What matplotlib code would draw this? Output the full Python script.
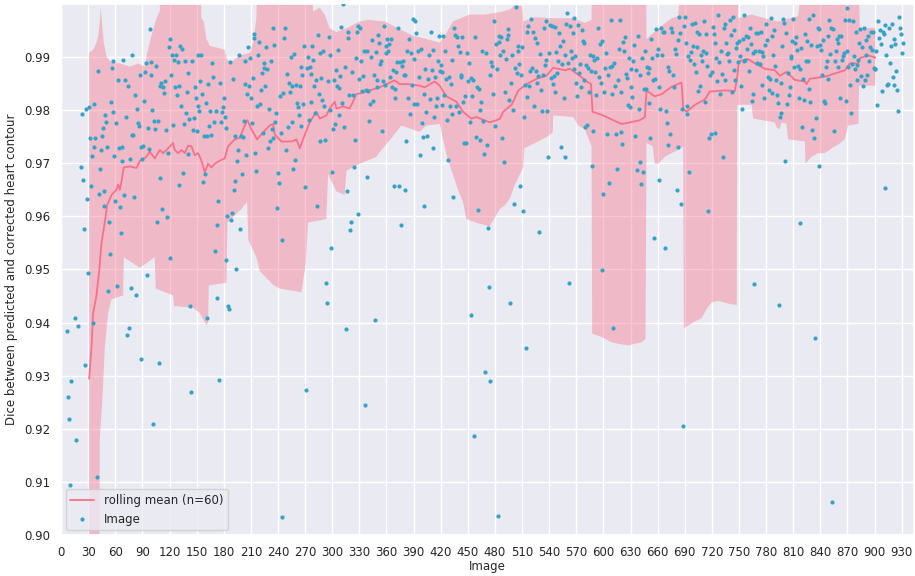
import numpy as np
import matplotlib
matplotlib.use("Agg")
import matplotlib.pyplot as plt
import seaborn as sns

# dice per image, in units of 1e-4 (values below 0.90 fall off the chart)
dice_000 = [8200, 8700, 7400, 8900, 8600, 8100, 8800, 9384, 9260, 9218,
            9095, 9290, 8400, 8900, 8700, 8950, 9409, 9178, 8800, 9393,
            8600, 8900, 9692, 9792, 9668, 9576, 8800, 9320, 9803, 9632,
            9494, 9805, 9748, 9658, 9713, 9399, 9812, 9731, 9747, 8600,
            9110, 9874, 9643, 9690, 9724, 9752, 9767, 9620, 9648, 9791,
            9777, 9731, 9460, 9589, 9530, 9815, 9879, 9893, 9796, 9714,
            9628, 9776, 9469, 9857, 9728, 9617, 9568, 9705, 9730, 9894,
            9640, 9857, 9788, 9377, 9845, 9390, 9708, 9465, 9903, 9754,
            9753, 9636, 9828, 9451, 9803, 9776, 9771, 9866, 9731, 9331,
            9708, 9732, 9818, 9871, 9888, 9490, 9766, 9726, 9952, 9890]
dice_100 = [9867, 9800, 9209, 9780, 9764, 9884, 9589, 9779, 9323, 9846,
            9673, 9852, 9613, 9844, 9833, 9855, 9763, 9598, 9719, 9919,
            9521, 9933, 9866, 9903, 9772, 9895, 9844, 9903, 9828, 9890,
            9845, 9659, 9921, 9808, 9916, 9681, 9774, 9893, 9794, 9835,
            9717, 9870, 9784, 9431, 9269, 9892, 9762, 9786, 9843, 9823,
            9760, 9807, 9904, 9798, 9855, 9904, 9830, 9664, 9752, 9679,
            9813, 9751, 9409, 9850, 9771, 9798, 9754, 9888, 9862, 9777,
            9534, 9798, 9446, 9583, 9628, 9292, 9852, 9777, 9796, 9805,
            9823, 9788, 9766, 9518, 9600, 9431, 9426, 9890, 9593, 9606,
            9859, 9649, 9666, 9751, 9501, 9704, 9724, 9904, 9576, 9751]
dice_200 = [9680, 9749, 9780, 9849, 9892, 9716, 9830, 9919, 9845, 9898,
            9822, 9776, 9860, 9944, 9935, 9719, 9686, 9807, 9903, 9929,
            9812, 9837, 9869, 9756, 9880, 9888, 9846, 9919, 9877, 9728,
            9803, 9742, 9893, 9764, 9954, 9747, 9922, 9778, 9794, 9616,
            9681, 9662, 9826, 9756, 9033, 9555, 9833, 9935, 9955, 9724,
            9868, 9769, 9851, 9835, 9900, 9846, 9777, 9690, 9905, 9706,
            9848, 9813, 9805, 9790, 9845, 9882, 9771, 9867, 9812, 9921,
            9655, 9273, 9880, 9900, 9781, 9882, 9816, 9868, 9921, 9895,
            9846, 9795, 9856, 9619, 9942, 9830, 9907, 9742, 9861, 9820,
            9911, 9807, 9744, 9474, 9437, 9854, 9937, 9800, 9903, 9541]
dice_300 = [9683, 9764, 9856, 9774, 9875, 9845, 9914, 9842, 9790, 9865,
            9957, 9813, 9999, 9768, 9882, 9387, 9648, 9948, 9936, 9829,
            9574, 9589, 9872, 9829, 9692, 9743, 9898, 9948, 9605, 9959,
            9859, 9955, 9892, 9836, 9865, 9912, 9245, 9838, 9674, 9912,
            9836, 9780, 9811, 9900, 9932, 9818, 9866, 9405, 9909, 9844,
            9857, 9942, 9927, 9886, 9893, 9761, 9855, 9958, 9848, 9920,
            9907, 9934, 9911, 9924, 9863, 9934, 9843, 9876, 9658, 9823,
            9839, 9871, 9890, 9954, 9657, 9890, 9584, 9884, 9893, 9867,
            9866, 9650, 9741, 9912, 9823, 9934, 9793, 9907, 9848, 9972,
            9896, 9812, 9968, 9945, 9812, 9912, 9863, 9715, 9916, 9776]
dice_400 = [9750, 9619, 9830, 9878, 9796, 9752, 9858, 9903, 9821, 9947,
            9875, 9728, 9913, 9788, 9862, 9808, 9822, 9893, 9939, 9873,
            9885, 9872, 9810, 9939, 9829, 9911, 9859, 9781, 9707, 9862,
            9808, 9850, 9895, 9792, 9636, 9954, 9942, 9808, 9937, 9921,
            9797, 9910, 9867, 9863, 9937, 9815, 9739, 9826, 9739, 9907,
            9854, 9888, 9777, 9414, 9861, 9826, 9857, 9187, 9937, 9750,
            9843, 9612, 9839, 9744, 9801, 9816, 9912, 9779, 9718, 9307,
            9907, 9734, 9578, 9467, 9867, 9290, 9890, 9884, 9831, 9967,
            9770, 9924, 9877, 9035, 9939, 9929, 9903, 9937, 9748, 9912,
            9702, 9835, 9897, 9934, 9952, 9942, 9820, 9437, 9851, 9903]
dice_500 = [9801, 9623, 9880, 9995, 9869, 9921, 9911, 9887, 9658, 9867,
            9918, 9610, 9788, 9847, 9352, 9825, 9948, 9958, 9846, 9874,
            9972, 9880, 9948, 9808, 9935, 9874, 9927, 9852, 9864, 9571,
            9905, 9837, 9798, 9867, 9955, 9885, 9967, 9895, 9799, 9711,
            9907, 9960, 9860, 9958, 9850, 9865, 9835, 9957, 9909, 9869,
            9893, 9946, 9921, 9730, 9886, 9930, 9823, 9904, 9712, 9963,
            9983, 9888, 9474, 9959, 9911, 9898, 9946, 9973, 9877, 9901,
            9852, 9826, 9961, 9870, 9886, 9844, 9950, 9930, 9926, 9857,
            9769, 9885, 9772, 9880, 9835, 9903, 9874, 9695, 9901, 9761,
            9894, 9872, 9828, 9898, 9955, 9862, 9924, 9852, 9499, 9930]
dice_600 = [9643, 9835, 9880, 9907, 9755, 9867, 9663, 9882, 9969, 9830,
            9884, 9390, 9888, 9846, 9755, 9690, 9856, 9915, 9969, 9834,
            9758, 9736, 9929, 9911, 9937, 9868, 9860, 9810, 9898, 9805,
            9843, 9877, 9825, 9893, 9922, 9751, 9876, 9687, 9939, 9802,
            9867, 9702, 9660, 9899, 9684, 9839, 9912, 9840, 9882, 9869,
            9813, 9879, 9747, 9934, 9899, 9857, 9559, 9859, 9952, 9903,
            9916, 9843, 9668, 9803, 9955, 9903, 9947, 9948, 9540, 9798,
            9775, 9881, 9734, 9874, 9755, 9955, 9947, 9866, 9843, 9916,
            9906, 9649, 9730, 9932, 9975, 9945, 9624, 9802, 9206, 9958,
            9976, 9926, 9792, 9807, 9901, 9684, 9895, 9909, 9962, 9921]
dice_700 = [9886, 9964, 9871, 9918, 9947, 9836, 9944, 9846, 9903, 9893,
            9912, 9968, 9816, 9908, 9944, 9883, 9610, 9747, 9866, 9755,
            9871, 9957, 9944, 9756, 9927, 9899, 9854, 9979, 9890, 9830,
            9912, 9868, 9711, 9955, 9963, 9857, 9927, 9905, 9908, 9893,
            9969, 9941, 9834, 9975, 9875, 9950, 9857, 9917, 9927, 9890,
            9931, 9902, 9846, 9803, 9934, 9893, 9980, 9895, 9940, 9916,
            9938, 9873, 9955, 9925, 9818, 9831, 9908, 9472, 9911, 9945,
            9888, 9946, 9911, 9887, 9947, 9848, 9910, 9901, 9822, 9922,
            9962, 9932, 9862, 9837, 9859, 9973, 9940, 9832, 9903, 9950,
            9884, 9857, 9828, 9813, 9433, 9787, 9795, 9852, 9921, 9972]
dice_800 = [9964, 9705, 9945, 9811, 9870, 9828, 9843, 9901, 9898, 9931,
            9972, 9882, 9927, 9937, 9914, 9884, 9822, 9877, 9587, 9917,
            9769, 9859, 9819, 9944, 9893, 9931, 9893, 9839, 9972, 9816,
            9922, 9763, 9980, 9747, 9371, 9785, 9921, 9954, 9694, 9952,
            9922, 9914, 9867, 9932, 9818, 9813, 9882, 9893, 9940, 9859,
            9970, 9905, 9954, 9062, 9952, 9760, 9893, 9911, 9934, 9881,
            9927, 9940, 9823, 9940, 9895, 9901, 9908, 9969, 9818, 9911,
            9993, 9882, 9969, 9848, 9795, 9887, 9967, 9901, 9877, 9947,
            9856, 9885, 9895, 9927, 9952, 9864, 9918, 9845, 9954, 9856,
            9932, 9903, 9867, 9939, 9892, 9919, 9948, 9914, 9947, 9880]
dice_900 = [9877, 9878, 9911, 9810, 9967, 9935, 9950, 9924, 9836, 9947,
            9944, 9653, 9960, 9903, 9847, 9849, 9954, 9888, 9921, 9963,
            9863, 9934, 9847, 9924, 9873, 9837, 9798, 9976, 9955, 9944,
            9908, 9926]

# rolling mean (n=60) as (image, dice)
rolling_mean = [
    (31.1, 0.9294), (33.7, 0.9353), (35.5, 0.9418), (39.2, 0.9451), (42.2, 0.9497),
    (44.7, 0.9549), (48.4, 0.9588), (51.0, 0.9621), (55.8, 0.9640), (61.3, 0.9650),
    (63.2, 0.9660), (65.0, 0.9650), (66.9, 0.9666), (69.4, 0.9692), (76.1, 0.9694),
    (83.4, 0.9691), (87.1, 0.9704), (94.5, 0.9712), (98.2, 0.9722), (103.7, 0.9709),
    (109.2, 0.9725), (112.9, 0.9719), (116.6, 0.9725), (124.0, 0.9738), (125.8, 0.9725),
    (129.5, 0.9719), (133.2, 0.9725), (136.9, 0.9719), (140.6, 0.9733), (144.3, 0.9732),
    (147.9, 0.9715), (151.6, 0.9719), (155.3, 0.9705), (159.0, 0.9683), (162.7, 0.9699),
    (166.4, 0.9692), (170.1, 0.9699), (175.6, 0.9705), (181.1, 0.9709), (184.8, 0.9732),
    (192.2, 0.9745), (197.7, 0.9748), (203.2, 0.9771), (206.2, 0.9781), (210.6, 0.9764),
    (216.9, 0.9745), (223.5, 0.9758), (230.9, 0.9771), (234.6, 0.9774), (236.4, 0.9754),
    (243.8, 0.9741), (254.8, 0.9741), (260.4, 0.9745), (264.1, 0.9728), (267.7, 0.9745),
    (275.1, 0.9777), (282.5, 0.9797), (286.2, 0.9784), (293.5, 0.9790), (297.2, 0.9803),
    (302.8, 0.9816), (304.6, 0.9803), (312.0, 0.9807), (319.3, 0.9803), (323.0, 0.9816),
    (326.7, 0.9830), (334.1, 0.9833), (345.2, 0.9839), (352.5, 0.9843), (359.9, 0.9849),
    (369.1, 0.9856), (374.6, 0.9849), (383.9, 0.9849), (396.7, 0.9846), (402.3, 0.9843),
    (413.3, 0.9854), (418.9, 0.9846), (426.2, 0.9826), (437.3, 0.9816), (444.7, 0.9797),
    (453.9, 0.9784), (459.4, 0.9787), (474.2, 0.9777), (481.8, 0.9781), (485.5, 0.9784),
    (489.2, 0.9797), (498.4, 0.9810), (502.1, 0.9823), (505.8, 0.9837), (515.0, 0.9849),
    (526.1, 0.9859), (537.1, 0.9865), (544.5, 0.9880), (557.4, 0.9875), (562.9, 0.9878),
    (570.3, 0.9869), (575.8, 0.9862), (581.4, 0.9854), (586.2, 0.9849), (588.0, 0.9797),
    (599.8, 0.9790), (610.9, 0.9781), (620.1, 0.9774), (629.3, 0.9777), (640.3, 0.9781),
    (645.9, 0.9787), (647.7, 0.9837), (656.9, 0.9826), (664.3, 0.9830), (675.4, 0.9844),
    (686.4, 0.9852), (688.3, 0.9803), (691.9, 0.9797), (701.2, 0.9810), (712.2, 0.9820),
    (717.7, 0.9835), (734.3, 0.9837), (745.4, 0.9836), (748.0, 0.9862), (749.8, 0.9892),
    (760.1, 0.9896), (767.5, 0.9888), (778.6, 0.9878), (789.6, 0.9875), (795.2, 0.9865),
    (802.5, 0.9872), (811.7, 0.9857), (822.8, 0.9854), (824.6, 0.9849), (828.3, 0.9859),
    (844.9, 0.9863), (856.0, 0.9869), (867.0, 0.9875), (872.6, 0.9888), (881.8, 0.9888),
    (883.6, 0.9898), (892.8, 0.9903), (900.9, 0.9899)]

# edges of the shaded band (1.01 / 0.88 = beyond the axis limits)
band_upper = [
    (31.1, 0.9908), (35.5, 0.9914), (39.2, 0.9927), (41.1, 0.9940), (42.9, 0.9967),
    (44.0, 0.9993), (45.8, 0.9954), (47.3, 0.9927), (50.3, 0.9901), (54.0, 0.9892),
    (65.0, 0.9888), (76.1, 0.9882), (85.3, 0.9888), (92.7, 0.9882), (95.2, 0.9908),
    (100.0, 0.9940), (105.6, 0.9973), (109.2, 0.9986), (111.0, 1.01), (153.5, 1.01),
    (155.3, 0.9973), (157.9, 0.9967), (160.9, 0.9934), (164.5, 0.9921), (181.1, 0.9914),
    (183.0, 0.9898), (186.7, 0.9888), (195.9, 0.9901), (208.8, 0.9908), (212.5, 0.9927),
    (216.1, 0.9973), (218.0, 1.01), (277.0, 1.01), (278.8, 0.9986), (286.2, 0.9993),
    (291.7, 0.9980), (297.2, 0.9954), (304.6, 0.9947), (315.7, 0.9954), (330.4, 0.9967),
    (339.6, 0.9970), (358.1, 0.9967), (372.8, 0.9954), (389.4, 0.9940), (404.1, 0.9934),
    (418.9, 0.9927), (424.4, 0.9940), (433.6, 0.9967), (452.0, 0.9980), (469.0, 0.9980),
    (487.4, 0.9985), (497.0, 0.9990), (502.0, 0.9998), (510.5, 0.9996), (511.3, 0.9967),
    (524.2, 0.9975), (544.5, 0.9973), (566.6, 0.9973), (579.5, 0.9964), (586.9, 0.9970),
    (587.6, 1.01), (647.0, 1.01), (647.7, 0.9934), (660.6, 0.9954), (675.4, 0.9973),
    (682.7, 0.9977), (688.6, 1.01), (748.0, 1.01), (749.1, 0.9973), (763.8, 0.9980),
    (778.6, 0.9973), (793.3, 0.9967), (815.4, 0.9977), (823.5, 1.01), (882.1, 1.01),
    (883.6, 0.9954), (900.9, 0.9955)]
band_lower = [
    (31.1, 0.88), (42.2, 0.88), (42.9, 0.9183), (45.8, 0.9255), (48.4, 0.9353),
    (52.1, 0.9418), (55.8, 0.9444), (68.7, 0.9451), (69.4, 0.9523), (87.1, 0.9503),
    (103.7, 0.9523), (104.8, 0.9464), (124.0, 0.9451), (125.1, 0.9431), (146.1, 0.9428),
    (153.5, 0.9418), (160.9, 0.9395), (162.7, 0.9400), (163.4, 0.9470), (183.0, 0.9475),
    (184.1, 0.9588), (199.6, 0.9614), (205.8, 0.9627), (207.3, 0.9555), (216.1, 0.9523),
    (219.8, 0.9497), (234.6, 0.9471), (241.9, 0.9464), (265.9, 0.9457), (270.7, 0.9510),
    (273.3, 0.9588), (293.5, 0.9595), (295.4, 0.9679), (304.6, 0.9647), (313.8, 0.9640),
    (315.7, 0.9686), (330.4, 0.9699), (348.8, 0.9712), (354.4, 0.9725), (367.3, 0.9751),
    (376.5, 0.9771), (396.7, 0.9759), (404.1, 0.9771), (418.9, 0.9774), (422.6, 0.9745),
    (428.1, 0.9705), (433.6, 0.9679), (439.1, 0.9650), (444.7, 0.9627), (448.3, 0.9595),
    (459.4, 0.9588), (474.2, 0.9581), (485.5, 0.9614), (491.1, 0.9621), (496.6, 0.9634),
    (502.1, 0.9660), (507.6, 0.9679), (511.3, 0.9692), (512.4, 0.9728), (524.2, 0.9738),
    (539.0, 0.9751), (544.0, 0.9758), (544.5, 0.9790), (566.6, 0.9787), (572.1, 0.9771),
    (579.5, 0.9764), (586.9, 0.9732), (587.6, 0.9379), (597.9, 0.9373), (609.0, 0.9363),
    (616.4, 0.9360), (627.4, 0.9357), (634.8, 0.9360), (642.2, 0.9363), (646.6, 0.9369),
    (647.7, 0.9738), (654.4, 0.9732), (656.9, 0.9699), (660.6, 0.9699), (668.0, 0.9712),
    (675.4, 0.9719), (682.7, 0.9725), (688.3, 0.9732), (689.0, 0.9389), (701.2, 0.9402),
    (708.5, 0.9408), (714.1, 0.9425), (719.6, 0.9438), (727.0, 0.9441), (739.9, 0.9435),
    (747.5, 0.9433), (748.0, 0.9810), (763.8, 0.9810), (765.7, 0.9784), (789.6, 0.9777),
    (791.5, 0.9768), (795.2, 0.9764), (797.0, 0.9777), (802.5, 0.9774), (804.4, 0.9745),
    (822.8, 0.9741), (823.5, 0.9699), (830.1, 0.9712), (837.5, 0.9719), (845.0, 0.9719),
    (852.3, 0.9728), (859.6, 0.9735), (867.0, 0.9745), (870.7, 0.9771), (882.1, 0.9774),
    (882.9, 0.9846), (900.9, 0.9846)]

LINE_COLOR = "#f77189"
DOT_COLOR = "#33a4c8"

sns.set_theme(style="darkgrid")
plt.rcParams['font.family'] = ['DejaVu Sans']

dice = np.array(dice_000 + dice_100 + dice_200 + dice_300 + dice_400 +
                dice_500 + dice_600 + dice_700 + dice_800 + dice_900) / 1e4
image = np.arange(len(dice))

mx, mv = np.array(rolling_mean).T
ux, uv = np.array(band_upper).T
lx, lv = np.array(band_lower).T

fig = plt.figure(figsize=(9.15, 5.76), dpi=100)
ax = fig.add_axes([0.0667, 0.0712, 0.9322, 0.922])

ax.fill(np.r_[ux, lx[::-1]], np.r_[uv, lv[::-1]], color=LINE_COLOR,
        alpha=0.4, linewidth=0, zorder=1)
ax.plot(mx, mv, color=LINE_COLOR, linewidth=1.3, label="rolling mean (n=60)", zorder=2)
ax.scatter(image, dice, s=9, color=DOT_COLOR, linewidth=0, label="Image", zorder=3)

ax.set_xlim(0, 943.6)
ax.set_ylim(0.90, 1.0)
ax.set_xticks(np.arange(0, 931, 30))
ax.set_yticks(np.arange(0.90, 0.995, 0.01))
ax.yaxis.set_major_formatter(matplotlib.ticker.FormatStrFormatter('%.2f'))
ax.tick_params(labelsize=8.5, pad=2)
ax.set_xlabel("Image", fontsize=8.5, labelpad=1)
ax.set_ylabel("Dice between predicted and corrected heart contour", fontsize=8.5, labelpad=4)
ax.legend(loc="lower left", fontsize=8.5, borderaxespad=0.4)

fig.savefig("out.png", dpi=100)
